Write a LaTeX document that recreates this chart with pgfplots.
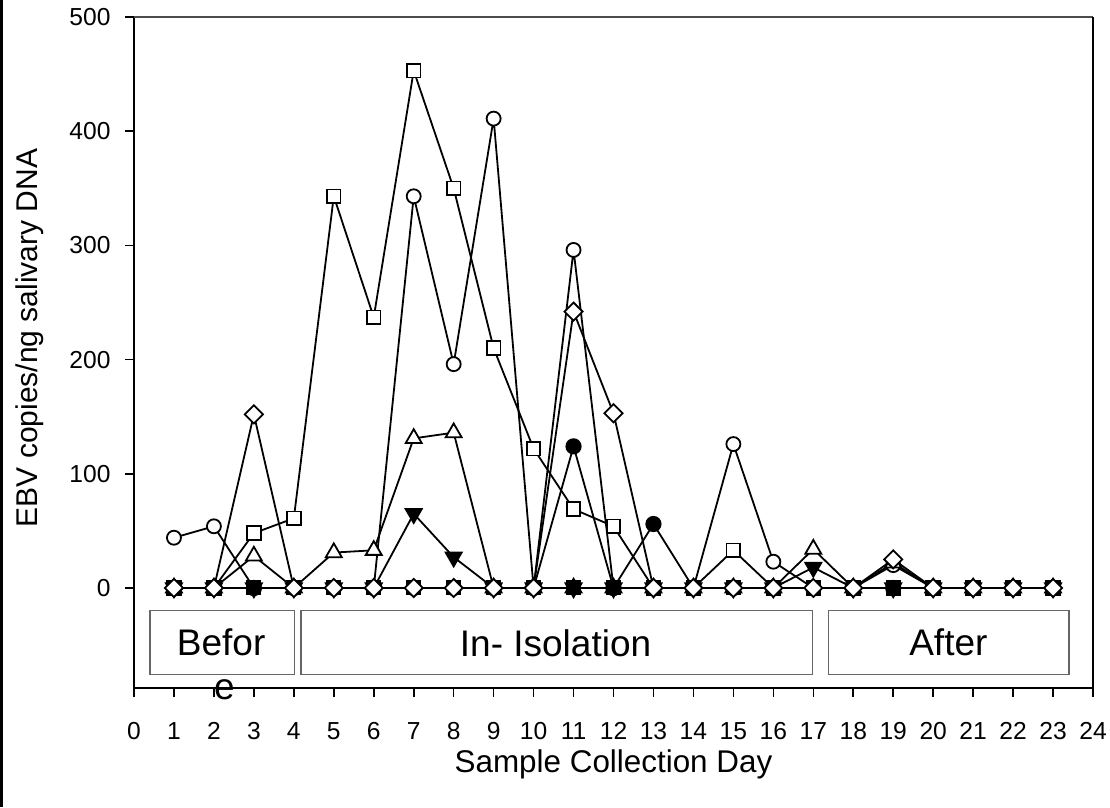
\documentclass[border=0pt]{standalone}
\usepackage{fontspec}
\setmainfont{Liberation Sans}
\usepackage{pgfplots}
\pgfplotsset{compat=1.18}
\newcommand{\tickfont}{\fontsize{12.3}{14}\selectfont}
\begin{document}
\begin{tikzpicture}
\begin{axis}[
  name=ax,
  scale only axis,
  width=479.5pt, height=335.5pt,
  xmin=0, xmax=24, ymin=-87.6, ymax=500,
  axis lines=left,
  axis line style={-, line width=1pt, black},
  tick align=outside,
  xtick={0,1,...,24},
  ytick={0,100,...,500},
  yticklabels={},
  major tick length=4.5pt,
  tick style={black, line width=0.8pt},
  /pgf/number format/assume math mode=true,
  xticklabel={\tickfont\pgfmathprintnumber{\tick}},
  xticklabel style={font=\tickfont, text height=8.9pt, text depth=0pt, yshift=-9pt},
  xlabel={Sample Collection Day},
  ylabel={EBV copies/ng salivary DNA},
  xlabel style={font=\fontsize{15.7}{17}\selectfont, at={(rel axis cs:0.5,0)}, anchor=center, yshift=-38pt},
  ylabel style={font=\fontsize{15}{17}\selectfont, at={(rel axis cs:0,0.5216)}, anchor=center, rotate=0, yshift=52pt},
  clip=false,
  every axis plot/.append style={line width=0.9pt, black},
]
% y tick labels
\pgfplotsinvokeforeach{0,100,200,300,400,500}{
  \node[anchor=east, font=\tickfont, xshift=-8.2pt, inner sep=3.33pt] at (axis cs:0,#1) {#1};
}
% open circle
\addplot[mark=*, mark size=3.5pt, mark options={fill=white, draw=black, line width=0.9pt}] coordinates {
(1,44)(2,54)(3,0)(4,0)(5,0)(6,0)(7,343)(8,196)(9,411)(10,0)(11,296)(12,0)(13,0)(14,0)(15,126)(16,23)(17,0)(18,0)(19,20)(20,0)(21,0)(22,0)(23,0)};
% open square
\addplot[mark=square*, mark size=3.4pt, mark options={fill=white, line width=0.9pt}] coordinates {
(1,0)(2,0)(3,48)(4,61)(5,343)(6,237)(7,453)(8,350)(9,210)(10,122)(11,69)(12,54)(13,0)(14,0)(15,33)(16,0)(17,0)(18,0)(19,0)(20,0)(21,0)(22,0)(23,0)};
% open triangle
\addplot[mark=triangle*, mark size=4.6pt, mark options={fill=white, line width=0.9pt}] coordinates {
(1,0)(2,0)(3,28)(4,0)(5,31)(6,33)(7,131)(8,136)(9,0)(10,0)(11,0)(12,0)(13,0)(14,0)(15,0)(16,0)(17,34)(18,0)(19,22)(20,0)(21,0)(22,0)(23,0)};
% filled square (all zero)
\addplot[mark=square*, mark size=3.3pt, mark options={fill=black}] coordinates {
(1,0)(2,0)(3,0)(4,0)(5,0)(6,0)(7,0)(8,0)(9,0)(10,0)(11,0)(12,0)(13,0)(14,0)(15,0)(16,0)(17,0)(18,0)(19,0)(20,0)(21,0)(22,0)(23,0)};
% filled triangle down
\addplot[mark=triangle*, mark size=4.6pt, mark options={fill=black, rotate=180}] coordinates {
(1,0)(2,0)(3,0)(4,0)(5,0)(6,0)(7,65)(8,27)(9,0)(10,0)(11,0)(12,0)(13,0)(14,0)(15,0)(16,0)(17,18)(18,0)(19,0)(20,0)(21,0)(22,0)(23,0)};
% filled circle
\addplot[mark=*, mark size=3.6pt, mark options={fill=black}] coordinates {
(1,0)(2,0)(3,0)(4,0)(5,0)(6,0)(7,0)(8,0)(9,0)(10,0)(11,124)(12,0)(13,56)(14,0)(15,0)(16,0)(17,0)(18,0)(19,0)(20,0)(21,0)(22,0)(23,0)};
% open diamond
\addplot[mark=square*, mark size=3.2pt, mark options={fill=white, line width=0.9pt, rotate=45}] coordinates {
(1,0)(2,0)(3,152)(4,0)(5,0)(6,0)(7,0)(8,0)(9,0)(10,0)(11,242)(12,153)(13,0)(14,0)(15,0)(16,0)(17,0)(18,0)(19,25)(20,0)(21,0)(22,0)(23,0)};
% period boxes
\draw[gray!80!black, line width=0.6pt] (axis cs:0.4,-20) rectangle (axis cs:4.02,-76);
\draw[gray!80!black, line width=0.6pt] (axis cs:4.18,-20) rectangle (axis cs:16.97,-76);
\draw[gray!80!black, line width=0.6pt] (axis cs:17.38,-20) rectangle (axis cs:23.4,-76);
\node[font=\fontsize{18.5}{20}\selectfont, anchor=center] at (axis cs:2.18,-48) {Befor};
\node[font=\fontsize{18.5}{20}\selectfont, anchor=center] at (axis cs:2.26,-89) {e};
\node[font=\fontsize{18.5}{20}\selectfont, anchor=center] at (axis cs:10.55,-48) {In- Isolation};
\node[font=\fontsize{18.5}{20}\selectfont, anchor=center] at (axis cs:20.38,-48) {After};
% top and right border
\draw[gray!60!black, line width=0.7pt] (rel axis cs:0,1) -- (rel axis cs:1,1);
\draw[black, line width=1pt] (rel axis cs:1,1) -- (rel axis cs:1,0);
\end{axis}
\pgfresetboundingbox
\path ([shift={(-67pt,-59.5pt)}]ax.south west) rectangle ([shift={(8.5pt,8.5pt)}]ax.north east);
\fill[black] ([shift={(-67pt,-59.5pt)}]ax.south west) rectangle ([shift={(-65.5pt,8.5pt)}]ax.south west |- ax.north east);
\end{tikzpicture}
\end{document}
